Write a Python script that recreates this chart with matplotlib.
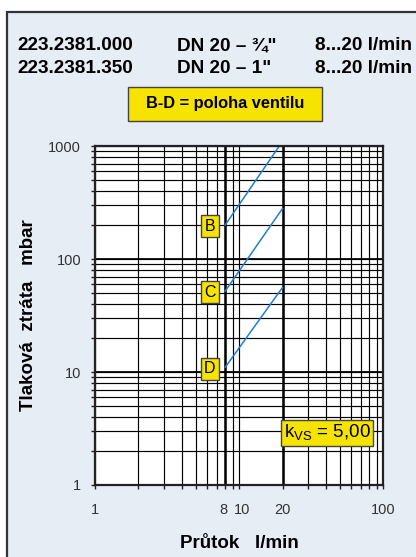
import matplotlib
matplotlib.use("Agg")
import matplotlib.pyplot as plt
from matplotlib.patches import Rectangle
from matplotlib.transforms import ScaledTranslation
from matplotlib.ticker import FixedLocator, NullFormatter, FixedFormatter

plt.rcParams['font.family'] = ['Liberation Sans', 'DejaVu Sans']

# header rows
codes = ["223.2381.000", "223.2381.350"]
sizes = ["DN 20 – ¾\"", "DN 20 – 1\""]
ranges = ["8...20 l/min", "8...20 l/min"]

# valve positions: flow l/min, pressure loss mbar
positions = ["B", "C", "D"]
flow = {"B": [8, 19], "C": [8, 20], "D": [8, 20]}
loss = {"B": [200, 1000], "C": [52, 280], "D": [11, 56]}

x_labels = [1, 8, 10, 20, 100]
x_minor = [2, 3, 4, 5, 6, 7, 9, 30, 40, 50, 60, 70, 80, 90]
y_major = [1, 10, 100, 1000]
y_minor = [m * d for d in (1, 10, 100) for m in range(2, 10)]
range_bounds = [8, 20]

bg = '#e6edf5'
yellow = '#f6e300'

fig = plt.figure(figsize=(4.16, 5.57), dpi=100)
fig.patch.set_facecolor('white')
fig.patches.append(Rectangle((7.5 / 416, -0.05), 1.2, 1 - 12 / 557 + 0.05,
                             transform=fig.transFigure, facecolor=bg,
                             edgecolor='#333333', linewidth=1.6, zorder=-10))

# header text
for i in range(2):
    yy = 0.910 - i * 0.0408
    fig.text(17 / 416, yy, codes[i], fontsize=13.7, fontweight='bold', va='baseline')
    fig.text(176.7 / 416, yy, sizes[i], fontsize=13.7, fontweight='bold', va='baseline')
    fig.text(315 / 416, yy, ranges[i], fontsize=13.7, fontweight='bold', va='baseline')

fig.patches.append(Rectangle((127.7 / 416, 1 - 120.7 / 557), 194 / 416, 34 / 557,
                             transform=fig.transFigure, facecolor=yellow,
                             edgecolor='#444444', linewidth=1.0, zorder=1))
fig.text(224.7 / 416, 1 - 104 / 557, "B-D = poloha ventilu", fontsize=11.8,
         fontweight='bold', ha='center', va='center', zorder=2)

ax = fig.add_axes([95 / 416, 72 / 557, 288.3 / 416, 339 / 557])
ax.set_facecolor('white')
ax.set_xscale('log')
ax.set_yscale('log')
ax.set_xlim(1, 100)
ax.set_ylim(1, 1000)

ax.xaxis.set_major_locator(FixedLocator(x_labels))
ax.xaxis.set_major_formatter(FixedFormatter([str(v) for v in x_labels]))
ax.xaxis.set_minor_locator(FixedLocator(x_minor))
ax.xaxis.set_minor_formatter(NullFormatter())
ax.yaxis.set_major_locator(FixedLocator(y_major))
ax.yaxis.set_major_formatter(FixedFormatter([str(v) for v in y_major]))
ax.yaxis.set_minor_locator(FixedLocator(y_minor))
ax.yaxis.set_minor_formatter(NullFormatter())

ax.grid(which='both', color='black', linewidth=0.85)
for v in range_bounds:
    ax.axvline(v, color='black', linewidth=1.8)
for v in (10, 100):
    ax.axhline(v, color='black', linewidth=1.25)

ax.tick_params(which='both', direction='out', length=3, width=1, color='#222222')
ax.tick_params(axis='x', which='major', pad=10, labelsize=10.5, labelcolor='#333333')
ax.tick_params(axis='y', which='major', pad=7, labelsize=10.5, labelcolor='#333333')
for s in ax.spines.values():
    s.set_linewidth(1.6)
    s.set_color('#222222')
    s.set_zorder(5)

# spread the crowded 8 / 10 labels a little
fig.canvas.draw()
shifts = {"8": -1.5, "10": 2.5}
for lab in ax.get_xticklabels():
    if lab.get_text() in shifts:
        lab.set_transform(lab.get_transform() +
                          ScaledTranslation(shifts[lab.get_text()] / 100, 0, fig.dpi_scale_trans))

for p in positions:
    ax.plot(flow[p], loss[p], color='#1f80d0', linewidth=1.1, zorder=4)
    ax.annotate(p, (flow[p][0], loss[p][0]), xytext=(-11, -1), textcoords='offset points',
                ha='center', va='center', fontsize=11.5, zorder=6,
                bbox=dict(boxstyle='square,pad=0.22', fc=yellow, ec='#444444', lw=1.0))

ax.text(0.805, 0.153, r"k$_\mathregular{VS}$ = 5,00", transform=ax.transAxes,
        ha='center', va='center', fontsize=13.5, zorder=6,
        bbox=dict(boxstyle='square,pad=0.15', fc=yellow, ec='#444444', lw=1.0))

ax.set_xlabel("Průtok   l/min", fontsize=13.5, fontweight='bold', labelpad=13)
ax.set_ylabel("Tlaková  ztráta   mbar", fontsize=13.5, fontweight='bold', labelpad=8)

fig.savefig("out.png", dpi=100, facecolor=fig.get_facecolor())
